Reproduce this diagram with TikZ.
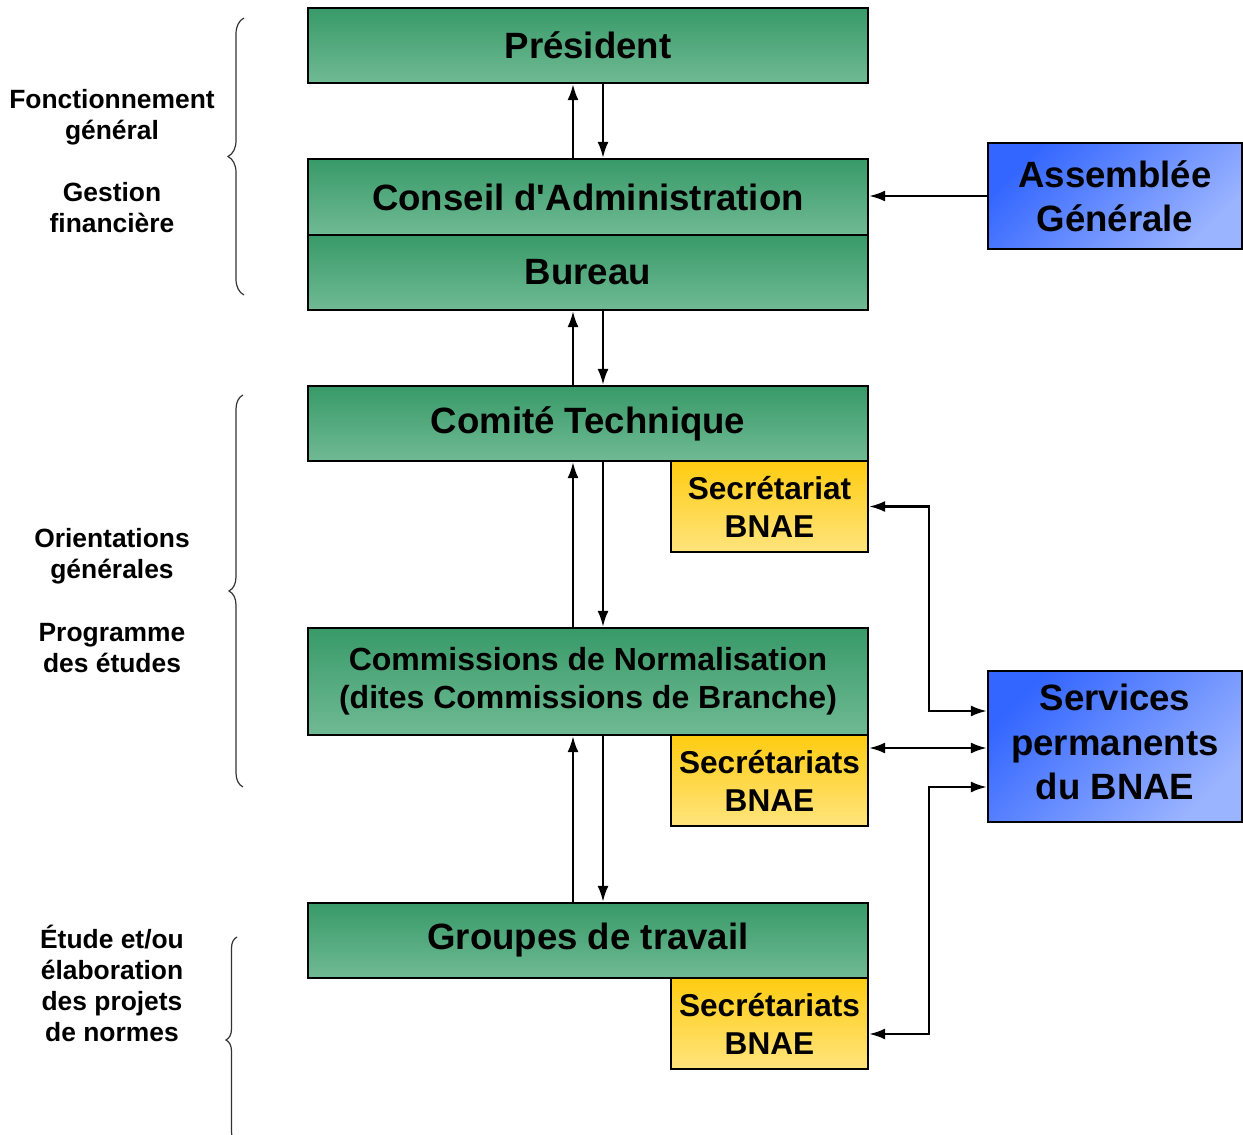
\documentclass[tikz,border=0pt]{standalone}
\usepackage{fontspec}
\setmainfont{Liberation Sans}[Ligatures=TeXOff]
\usetikzlibrary{arrows.meta, decorations.pathreplacing}
\definecolor{greenTop}{RGB}{56, 154, 104}
\definecolor{greenBot}{RGB}{112, 186, 148}
\definecolor{yellowTop}{RGB}{255, 204, 17}
\definecolor{yellowBot}{RGB}{255, 228, 125}
\definecolor{blueTop}{RGB}{51, 102, 255}
\definecolor{blueBot}{RGB}{155, 180, 255}
\definecolor{braceGray}{RGB}{50, 50, 50}

\begin{document}
\begin{tikzpicture}[x=0.5pt, y=-0.5pt,
    greenbox/.style={rectangle, draw=black, line width=1.1pt, top color=greenTop, bottom color=greenBot, minimum width=280pt, minimum height=37.5pt, inner sep=0pt, font=\fontsize{18.3}{22}\selectfont\bfseries},
    secbox/.style={rectangle, draw=black, line width=1.1pt, top color=yellowTop, bottom color=yellowBot, minimum width=98.5pt, minimum height=45.5pt, inner sep=0pt, align=center, font=\fontsize{15.8}{19}\selectfont\bfseries},
    bluebox/.style={rectangle, draw=black, line width=1.1pt, top color=blueTop, bottom color=blueBot, shading angle=45, minimum width=127pt, inner sep=0pt, align=center, font=\fontsize{18.3}{22.2}\selectfont\bfseries},
    sidelabel/.style={align=center, inner sep=0pt, font=\fontsize{13.2}{15.5}\selectfont\bfseries},
    arr/.style={line width=1.2pt, -{Latex[length=8pt, width=5.5pt]}},
    dbl/.style={line width=1.2pt, {Latex[length=8pt, width=5.5pt]}-{Latex[length=8pt, width=5.5pt]}},
    bracket/.style={draw=braceGray, line width=0.6pt, decorate}]
    \useasboundingbox (0,0) rectangle (1243,1135);
    \clip (0,0) rectangle (1243,1135);

    % main column
    \node[greenbox] (pres) at (588,45.5) {Président};
    \node[greenbox, minimum height=38pt] (conseil) at (588,197) {Conseil d'Administration};
    \node[greenbox] (bureau) at (588,272.5) {Bureau};
    \node[greenbox] (comite) at (588,423.5) {\raisebox{-1pt}{Comité Technique}};
    \node[greenbox, minimum height=53.5pt, align=center, font=\fontsize{16}{19}\selectfont\bfseries] (comm) at (588,681.5) {Commissions de Normalisation\\(dites Commissions de Branche)};
    \node[greenbox] (groupes) at (588,940.5) {\raisebox{-2pt}{Groupes de travail}};

    \node[secbox] (sec1) at (769.5,506.5) {Secrétariat\\BNAE};
    \node[secbox] (sec2) at (769.5,780.5) {Secrétariats\\BNAE};
    \node[secbox] (sec3) at (769.5,1023.5) {Secrétariats\\BNAE};

    % right side
    \node[bluebox, minimum height=53pt] (ag) at (1115,196) {Assemblée\\Générale};
    \node[bluebox, minimum height=75.5pt] (serv) at (1115,746.5) {\raisebox{2pt}{\begin{tabular}{@{}c@{}}Services\\permanents\\du BNAE\end{tabular}}};

    % side labels
    \node[sidelabel] (fonct) at (112,117) {Fonctionnement\\général};
    \node[sidelabel] (gestion) at (112,207.5) {Gestion\\financière};
    \node[sidelabel] (orient) at (112,556.5) {Orientations\\générales};
    \node[sidelabel] (progr) at (112,648) {Programme\\des études};
    \node[sidelabel] (etude) at (112,983) {Étude et/ou\\élaboration\\des projets\\de normes};

    \draw[bracket, decoration={brace, amplitude=8pt}] (244,295) -- (244,18);
    \draw[bracket, decoration={brace, amplitude=7pt}] (243,787) -- (243,395);
    \draw[bracket, decoration={brace, amplitude=5.5pt}] (237,1143) -- (237,937);

    % up and down links
    \draw[arr] ([xshift=-7.5pt]conseil.north) -- ([xshift=-7.5pt]pres.south);
    \draw[arr] ([xshift=7.5pt]pres.south) -- ([xshift=7.5pt]conseil.north);
    \draw[arr] ([xshift=-7.5pt]comite.north) -- ([xshift=-7.5pt]bureau.south);
    \draw[arr] ([xshift=7.5pt]bureau.south) -- ([xshift=7.5pt]comite.north);
    \draw[arr] ([xshift=-7.5pt]comm.north) -- ([xshift=-7.5pt]comite.south);
    \draw[arr] ([xshift=7.5pt]comite.south) -- ([xshift=7.5pt]comm.north);
    \draw[arr] ([xshift=-7.5pt]groupes.north) -- ([xshift=-7.5pt]comm.south);
    \draw[arr] ([xshift=7.5pt]comm.south) -- ([xshift=7.5pt]groupes.north);

    \draw[arr] (ag.west) -- (ag.west -| conseil.east);

    % links to the permanent services
    \coordinate (trunk) at (929,0);
    \coordinate (servA) at ([yshift=17.75pt]serv.west);
    \coordinate (servB) at ([yshift=-0.75pt]serv.west);
    \coordinate (servC) at ([yshift=-20.25pt]serv.west);
    \coordinate (sec3in) at ([yshift=-5.25pt]sec3.east);
    \draw[dbl] (sec1.east) -- (sec1.east -| trunk) |- (servA);
    \draw[dbl] (servB -| sec2.east) -- (servB);
    \draw[dbl] (servC) -| (sec3in -| trunk) -- (sec3in);
\end{tikzpicture}
\end{document}
